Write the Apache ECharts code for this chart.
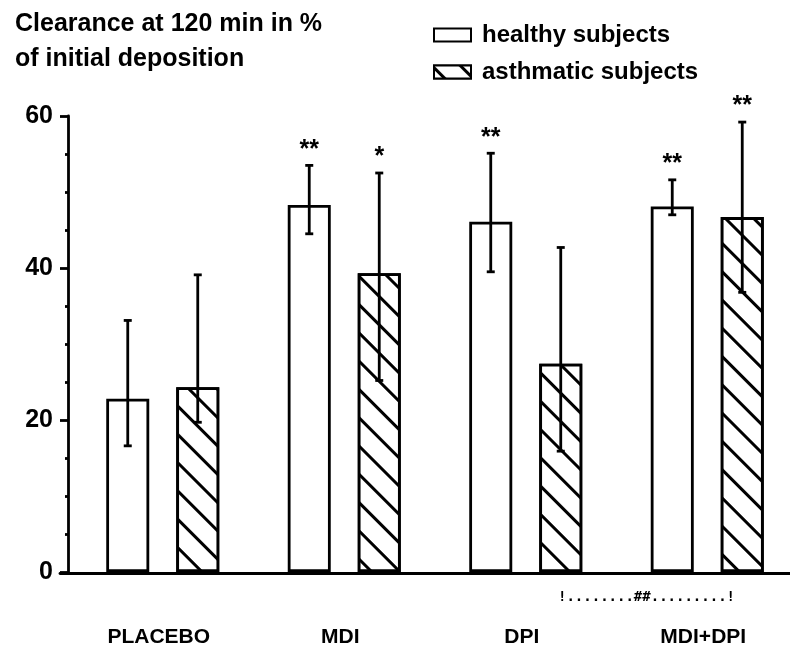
<!DOCTYPE html>
<html>
<head>
<meta charset="utf-8">
<script src="https://cdn.jsdelivr.net/npm/echarts@6/dist/echarts.min.js"></script>
<style>
html,body{margin:0;padding:0;background:#fff;overflow:hidden;}
#c{width:798px;height:648px;}
</style>
</head>
<body>
<div id="c"></div>
<script>
// ---- data ----
const categories = ['PLACEBO', 'MDI', 'DPI', 'MDI+DPI'];
const seriesNames = ['healthy subjects', 'asthmatic subjects'];
const healthy = [22.8, 48.3, 46.1, 48.1];
const healthyLow = [16.6, 44.5, 39.5, 47.0];
const healthyHigh = [33.1, 53.5, 55.1, 51.6];
const asthmatic = [24.3, 39.3, 27.4, 46.7];
const asthmaticLow = [19.7, 25.2, 15.9, 36.8];
const asthmaticHigh = [39.1, 52.5, 42.7, 59.2];
const sigHealthy = ['', '**', '**', '**'];
const sigAsthmatic = ['', '*', '', '**'];
const yTicks = [0, 20, 40, 60];
const titleText = 'Clearance at 120 min in %\nof initial deposition';
const compareText = '!........##.........!';

// ---- style ----
const FONT = 'Liberation Sans';
const BAR_W = 43;
const BAR_GAP_PX = 27;
const HALF = (BAR_W + BAR_GAP_PX) / 2;
const LW = 2.8;

function errData(low, high, sig) {
  return low.map((l, i) => [i, l, high[i], sig[i]]);
}

function errRender(offset) {
  return function (params, api) {
    const i = api.value(0);
    const pLow = api.coord([i, api.value(1)]);
    const pHigh = api.coord([i, api.value(2)]);
    const x = pLow[0] + offset;
    const cap = 4;
    const st = { stroke: '#000', lineWidth: LW };
    const children = [
      { type: 'line', shape: { x1: x, y1: pLow[1], x2: x, y2: pHigh[1] }, style: st },
      { type: 'line', shape: { x1: x - cap, y1: pLow[1], x2: x + cap, y2: pLow[1] }, style: st },
      { type: 'line', shape: { x1: x - cap, y1: pHigh[1], x2: x + cap, y2: pHigh[1] }, style: st }
    ];
    const s = api.value(3);
    if (s) {
      children.push({
        type: 'text',
        style: {
          text: s, x: x, y: pHigh[1] - 3,
          align: 'center', verticalAlign: 'bottom',
          font: 'bold 25px "' + FONT + '"', fill: '#000'
        }
      });
    }
    return { type: 'group', children: children };
  };
}

const chart = echarts.init(document.getElementById('c'), null, { renderer: 'canvas' });
const option = {
  animation: false,
  backgroundColor: '#fff',
  title: {
    text: titleText,
    left: 10, top: 2,
    textStyle: { fontFamily: FONT, fontWeight: 'bold', fontSize: 25, lineHeight: 35, color: '#000' }
  },
  legend: {
    data: seriesNames,
    orient: 'vertical',
    left: 433, top: 23, padding: 0,
    icon: 'rect',
    itemWidth: 37, itemHeight: 13,
    itemGap: 13,
    textStyle: { fontFamily: FONT, fontWeight: 'bold', fontSize: 24, color: '#000', padding: [0, 0, 0, 6] },
    selectedMode: false
  },
  grid: [
    { left: 72, right: 0, top: 116, bottom: 75 },
    { left: 60, right: 0, top: 116, bottom: 75 }
  ],
  xAxis: [
    {
      type: 'category', data: categories, gridIndex: 0,
      axisLine: { show: false },
      axisTick: { show: false },
      axisLabel: {
        margin: 55, color: '#000', fontFamily: FONT, fontWeight: 'bold', fontSize: 21,
        padding: [0, 8, 0, 0]
      }
    },
    {
      type: 'value', gridIndex: 1, min: 0, max: 1,
      axisLine: { show: true, lineStyle: { color: '#000', width: LW } },
      axisTick: { show: false }, axisLabel: { show: false }, splitLine: { show: false }
    }
  ],
  yAxis: [
    {
      type: 'value', gridIndex: 0, min: yTicks[0], max: yTicks[yTicks.length - 1], interval: 20,
      offset: 4,
      axisLine: { show: true, lineStyle: { color: '#000', width: LW } },
      axisTick: { show: true, length: 8, lineStyle: { color: '#000', width: LW } },
      minorTick: { show: true, splitNumber: 4, length: 3, lineStyle: { color: '#000', width: LW } },
      splitLine: { show: false },
      axisLabel: { margin: 15, color: '#000', fontFamily: FONT, fontWeight: 'bold', fontSize: 25 }
    },
    { type: 'value', gridIndex: 1, show: false, min: 0, max: 1 }
  ],
  series: [
    {
      name: seriesNames[0], type: 'bar', data: healthy,
      barWidth: BAR_W, barGap: (BAR_GAP_PX / BAR_W * 100).toFixed(1) + '%',
      itemStyle: { color: '#fff', borderColor: '#000', borderWidth: LW }
    },
    {
      name: seriesNames[1], type: 'bar', data: asthmatic,
      barWidth: BAR_W,
      itemStyle: {
        color: '#fff', borderColor: '#000', borderWidth: LW,
        decal: {
          symbol: 'rect', symbolSize: 1,
          dashArrayX: [1, 0], dashArrayY: [3, 17],
          rotation: Math.PI / 4,
          color: '#000', backgroundColor: '#fff'
        }
      }
    },
    {
      type: 'custom', renderItem: errRender(-HALF), data: errData(healthyLow, healthyHigh, sigHealthy),
      z: 10, silent: true
    },
    {
      type: 'custom', renderItem: errRender(HALF), data: errData(asthmaticLow, asthmaticHigh, sigAsthmatic),
      z: 10, silent: true
    }
  ]
};
chart.setOption(option);

// comparison annotation between DPI asthmatic and MDI+DPI asthmatic
const pA = chart.convertToPixel({ xAxisIndex: 0, yAxisIndex: 0 }, [2, 0]);
const pB = chart.convertToPixel({ xAxisIndex: 0, yAxisIndex: 0 }, [3, 0]);
chart.setOption({
  graphic: [{
    type: 'text',
    x: (pA[0] + pB[0]) / 2 + HALF - 5,
    y: pA[1] + 25,
    style: {
      text: compareText, align: 'center', verticalAlign: 'middle',
      font: 'bold 14px "DejaVu Sans Mono"', fill: '#000'
    }
  }]
});
</script>
</body>
</html>
